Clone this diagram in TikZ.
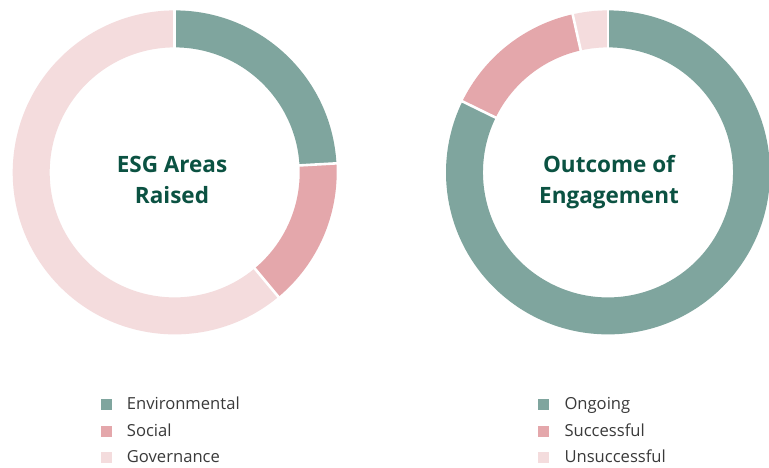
\documentclass[tikz,border=0pt]{standalone}
\usepackage{fontspec}
\setmainfont{Open Sans}
\usetikzlibrary{calc}
\definecolor{teal}{HTML}{7FA59E}
\definecolor{pinkA}{HTML}{E4A7AB}
\definecolor{pinkB}{HTML}{F4DCDD}
\definecolor{titlec}{HTML}{0B5242}
\definecolor{legc}{HTML}{3A3A3A}
\newcommand{\donutseg}[4]{% center, a1, a2, color
  \fill[#4] ($(#1)+(#2:162)$) arc[start angle=#2, end angle=#3, radius=162]
    -- ($(#1)+(#3:125)$) arc[start angle=#3, end angle=#2, radius=125] -- cycle;}
\newcommand{\donutgap}[2]{%
  \draw[white, line width=2.6pt] ($(#1)+(#2:122)$) -- ($(#1)+(#2:165)$);}
\tikzset{
  titletext/.style={text=titlec, font=\fontsize{22.5}{28}\selectfont\bfseries, anchor=base, inner sep=0},
  legsq/.style={minimum size=11pt, inner sep=0, draw=none},
  legtext/.style={text=legc, font=\fontsize{16.6}{20}\selectfont, anchor=base west, inner sep=0}
}
\begin{document}
\begin{tikzpicture}[x=1pt,y=1pt]
\useasboundingbox[fill=white] (0,0) rectangle (769,468);
\coordinate (cL) at (174.7,295.6);
\coordinate (cR) at (608,295.6);
% left donut
\donutseg{cL}{90}{3.2}{teal}
\donutseg{cL}{3.2}{-50.2}{pinkA}
\donutseg{cL}{-50.2}{-270}{pinkB}
\donutgap{cL}{90}
\donutgap{cL}{3.2}
\donutgap{cL}{-50.2}
% right donut
\donutseg{cR}{90}{-206}{teal}
\donutseg{cR}{154}{102.6}{pinkA}
\donutseg{cR}{102.6}{90}{pinkB}
\donutgap{cR}{90}
\donutgap{cR}{154}
\donutgap{cR}{102.6}
% titles
\node[titletext] (tL1) at (172,295.3) {ESG Areas};
\node[titletext] (tL2) at (172,264) {Raised};
\node[titletext] (tR1) at (609,295.3) {Outcome of};
\node[titletext] (tR2) at (609,264) {Engagement};
% left legend
\node[legsq, fill=teal] (sqE) at (106.2,63.3) {};
\node[legsq, fill=pinkA] (sqS) at (106.2,36.5) {};
\node[legsq, fill=pinkB] (sqG) at (106.2,10) {};
\node[legtext] (lE) at (126.7,58) {Environmental};
\node[legtext] (lS) at (126.7,31.3) {Social};
\node[legtext] (lG) at (126.7,5.3) {Governance};
% right legend
\node[legsq, fill=teal] (sqO) at (543.2,63.3) {};
\node[legsq, fill=pinkA] (sqSu) at (543.2,36.5) {};
\node[legsq, fill=pinkB] (sqU) at (543.2,10) {};
\node[legtext] (lO) at (564.3,58) {Ongoing};
\node[legtext] (lSu) at (564.3,31.3) {Successful};
\node[legtext] (lU) at (564.3,5.3) {Unsuccessful};
\end{tikzpicture}
\end{document}
